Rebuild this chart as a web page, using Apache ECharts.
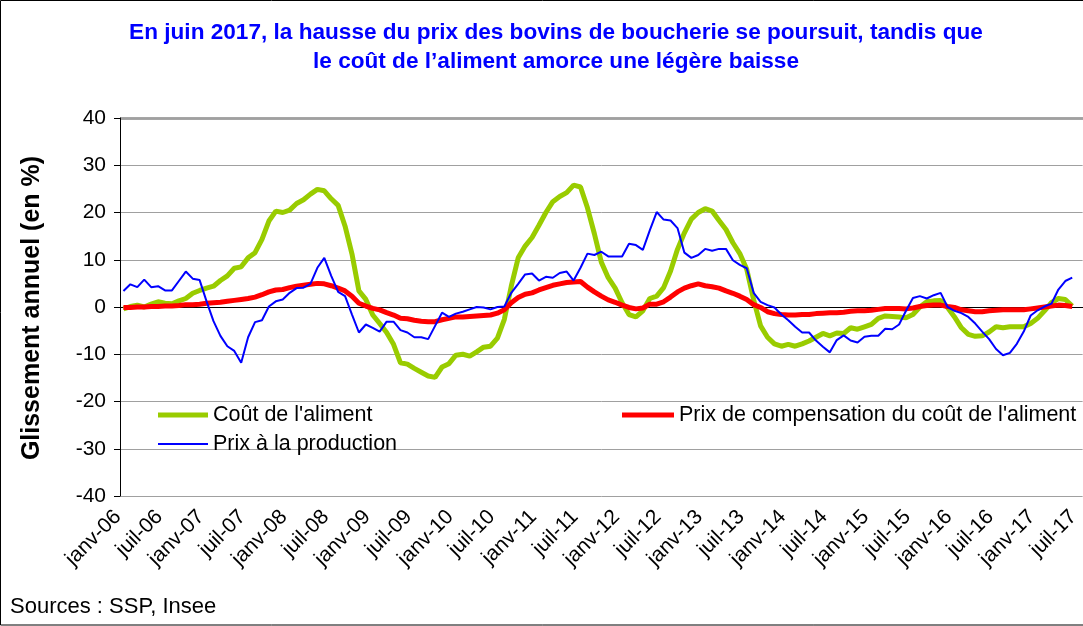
<!DOCTYPE html>
<html>
<head>
<meta charset="utf-8">
<script src="https://cdn.jsdelivr.net/npm/echarts@6/dist/echarts.min.js"></script>
<style>
  html, body { margin: 0; padding: 0; background: #fff; }
  #chart { width: 1083px; height: 626px; }
</style>
</head>
<body>
<div id="chart"></div>
<script>
// mois de janv-06 a juil-17
const mois = ['janv', 'févr', 'mars', 'avr', 'mai', 'juin', 'juil', 'août', 'sept', 'oct', 'nov', 'déc']
const annees = ['06', '07', '08', '09', '10', '11', '12', '13', '14', '15', '16', '17']
const categories = []
annees.forEach(a => mois.forEach(m => categories.push(m + '-' + a)))
categories.length = 139 // jusqu'a juil-17

const coutAliment = [
  -0.4, 0.1, 0.4, 0.0, 0.6, 1.1, 0.8, 0.7, 1.3, 1.8,
  2.9, 3.5, 4.0, 4.4, 5.6, 6.6, 8.2, 8.5, 10.4, 11.5,
  14.3, 18.2, 20.3, 20.0, 20.5, 21.9, 22.7, 23.9, 24.9, 24.6,
  22.9, 21.5, 17.1, 11.2, 3.4, 1.6, -1.7, -3.5, -5.4, -7.9,
  -11.8, -12.1, -13.0, -13.8, -14.6, -14.9, -12.7, -12.0, -10.2, -10.0,
  -10.4, -9.5, -8.5, -8.3, -6.6, -2.6, 4.4, 10.4, 12.9, 14.7,
  17.3, 20.0, 22.3, 23.4, 24.2, 25.8, 25.4, 21.0, 15.5, 9.5,
  6.2, 4.0, 0.9, -1.6, -2.1, -0.8, 1.8, 2.3, 4.1, 7.6,
  12.2, 15.7, 18.6, 20.0, 20.8, 20.3, 18.3, 16.4, 13.6, 11.3,
  8.0, 1.5, -4.0, -6.4, -7.8, -8.3, -7.9, -8.3, -7.8, -7.2,
  -6.4, -5.6, -6.1, -5.5, -5.6, -4.4, -4.7, -4.2, -3.7, -2.4,
  -1.9, -2.0, -2.1, -2.3, -1.6, 0.0, 1.1, 1.3, 1.4, -0.1,
  -2.1, -4.4, -5.8, -6.2, -6.1, -5.3, -4.2, -4.4, -4.2, -4.2,
  -4.2, -3.5, -2.4, -0.8, 0.9, 1.8, 1.6, 0.2
]

const prixCompensation = [
  -0.1, -0.1, 0.0, 0.0, 0.1, 0.1, 0.2, 0.2, 0.3, 0.5,
  0.5, 0.6, 0.8, 0.9, 1.0, 1.2, 1.4, 1.6, 1.8, 2.1,
  2.6, 3.2, 3.6, 3.7, 4.1, 4.4, 4.6, 4.8, 5.0, 4.9,
  4.5, 4.0, 3.4, 2.3, 0.8, 0.2, -0.3, -0.6, -1.2, -1.7,
  -2.4, -2.5, -2.8, -3.0, -3.1, -3.1, -2.7, -2.4, -2.1, -2.1,
  -2.0, -1.9, -1.8, -1.7, -1.3, -0.6, 0.9, 2.0, 2.7, 3.0,
  3.6, 4.1, 4.6, 4.9, 5.2, 5.3, 5.4, 4.2, 3.2, 2.3,
  1.5, 1.0, 0.4, -0.1, -0.4, -0.2, 0.6, 0.6, 1.1, 2.1,
  3.2, 4.0, 4.5, 4.9, 4.5, 4.3, 4.0, 3.4, 2.9, 2.3,
  1.6, 0.5, -0.1, -1.0, -1.4, -1.6, -1.7, -1.7, -1.6, -1.6,
  -1.4, -1.3, -1.2, -1.2, -1.1, -0.9, -0.8, -0.8, -0.7, -0.5,
  -0.3, -0.3, -0.3, -0.4, -0.2, 0.1, 0.3, 0.4, 0.4, 0.1,
  -0.1, -0.6, -0.8, -1.0, -1.0, -0.8, -0.7, -0.6, -0.6, -0.6,
  -0.6, -0.4, -0.2, 0.0, 0.2, 0.4, 0.3, 0.1
]

const prixProduction = [
  3.4, 4.8, 4.2, 5.8, 4.2, 4.4, 3.5, 3.5, 5.5, 7.5,
  6.0, 5.7, 1.2, -3.0, -6.1, -8.3, -9.3, -11.8, -6.4, -3.2,
  -2.8, 0.1, 1.2, 1.6, 3.0, 4.0, 4.1, 4.9, 8.3, 10.4,
  6.6, 3.2, 2.3, -1.6, -5.4, -3.7, -4.4, -5.2, -3.1, -3.1,
  -4.9, -5.4, -6.4, -6.4, -6.8, -4.0, -1.2, -2.1, -1.4, -1.0,
  -0.5, 0.0, -0.1, -0.5, 0.0, 0.1, 3.0, 4.9, 6.9, 7.1,
  5.6, 6.4, 6.2, 7.2, 7.5, 5.6, 8.3, 11.3, 11.0, 11.7,
  10.7, 10.7, 10.7, 13.4, 13.1, 12.1, 16.2, 20.1, 18.5, 18.3,
  16.7, 11.5, 10.4, 11.0, 12.3, 11.9, 12.3, 12.3, 9.9, 8.9,
  8.2, 3.0, 1.1, 0.4, -0.1, -1.6, -2.8, -4.2, -5.4, -5.4,
  -7.1, -8.4, -9.6, -7.0, -6.0, -7.1, -7.5, -6.3, -6.1, -6.1,
  -4.6, -4.7, -3.7, -0.8, 1.9, 2.3, 1.8, 2.5, 3.0, 0.0,
  -0.8, -1.3, -2.1, -3.5, -5.2, -6.8, -8.9, -10.2, -9.7, -7.8,
  -5.2, -1.8, -0.7, 0.1, 0.7, 3.7, 5.5, 6.2
]

const police = 'Liberation Sans, Arial, sans-serif'

let myChart = echarts.init(document.getElementById('chart'))
myChart.setOption({
  animation: false,
  textStyle: { fontFamily: police },
  grid: {
    left: 120,
    right: -10,
    top: 118,
    bottom: 130
  },
  legend: [
    {
      left: 153,
      top: 399,
      data: ['Coût de l\'aliment'],
      icon: 'rect',
      itemWidth: 50,
      itemHeight: 5,
      selectedMode: false,
      textStyle: { fontSize: 21.5, color: '#000' }
    },
    {
      left: 153,
      top: 428,
      data: ['Prix à la production'],
      icon: 'rect',
      itemWidth: 50,
      itemHeight: 2,
      selectedMode: false,
      textStyle: { fontSize: 21.5, color: '#000' }
    },
    {
      left: 617,
      top: 399,
      data: ['Prix de compensation du coût de l\'aliment'],
      icon: 'rect',
      itemWidth: 52,
      itemHeight: 5,
      selectedMode: false,
      textStyle: { fontSize: 21.5, color: '#000' }
    }
  ],
  xAxis: {
    type: 'category',
    data: categories,
    boundaryGap: true,
    axisLine: { lineStyle: { color: '#000', width: 1 } },
    axisTick: { interval: 5, length: 6, lineStyle: { color: '#000' } },
    axisLabel: {
      interval: 5,
      rotate: 45,
      fontSize: 21,
      color: '#000',
      margin: 12,
      padding: [0, 8, 0, 0]
    },
    splitLine: { show: false }
  },
  yAxis: {
    type: 'value',
    min: -40,
    max: 40,
    interval: 10,
    axisLine: { show: true, lineStyle: { color: '#000', width: 1 } },
    axisTick: { show: true, length: 6, lineStyle: { color: '#000' } },
    axisLabel: { fontSize: 21, color: '#000', margin: 14 },
    splitLine: { lineStyle: { color: '#a0a0a0', width: 1 } }
  },
  graphic: [
    {
      type: 'rect',
      silent: true,
      shape: { x: 0.5, y: 0.5, width: 1200, height: 624.5 },
      style: { fill: 'none', stroke: '#000', lineWidth: 1 }
    },
    {
      type: 'line',
      silent: true,
      shape: { x1: 120, y1: 118.5, x2: 1083, y2: 118.5 },
      style: { stroke: '#a6a6a6', lineWidth: 3 }
    },
    {
      type: 'text',
      x: 556,
      y: 33,
      style: {
        text: 'En juin 2017, la hausse du prix des bovins de boucherie se poursuit, tandis que',
        fontSize: 22.6, fontWeight: 'bold', fontFamily: police, fill: '#0000ff',
        textAlign: 'center', textVerticalAlign: 'middle'
      }
    },
    {
      type: 'text',
      x: 556,
      y: 62,
      style: {
        text: 'le coût de l’aliment amorce une légère baisse',
        fontSize: 22.6, fontWeight: 'bold', fontFamily: police, fill: '#0000ff',
        textAlign: 'center', textVerticalAlign: 'middle'
      }
    },
    {
      type: 'text',
      x: 32,
      y: 308,
      rotation: Math.PI / 2,
      style: {
        text: 'Glissement annuel (en %)',
        fontSize: 25, fontWeight: 'bold', fontFamily: police, fill: '#000',
        textAlign: 'center', textVerticalAlign: 'middle'
      }
    },
    {
      type: 'text',
      x: 10,
      y: 607,
      style: {
        text: 'Sources : SSP, Insee',
        fontSize: 22, fontFamily: police, fill: '#000',
        textVerticalAlign: 'middle'
      }
    }
  ],
  series: [
    {
      name: 'Coût de l\'aliment',
      type: 'line',
      symbol: 'none',
      data: coutAliment,
      lineStyle: { width: 5, color: '#99cc00' },
      itemStyle: { color: '#99cc00' }
    },
    {
      name: 'Prix de compensation du coût de l\'aliment',
      type: 'line',
      symbol: 'none',
      data: prixCompensation,
      lineStyle: { width: 5, color: '#ff0000' },
      itemStyle: { color: '#ff0000' }
    },
    {
      name: 'Prix à la production',
      type: 'line',
      symbol: 'none',
      data: prixProduction,
      lineStyle: { width: 2, color: '#0000ff' },
      itemStyle: { color: '#0000ff' }
    }
  ]
})
</script>
</body>
</html>
